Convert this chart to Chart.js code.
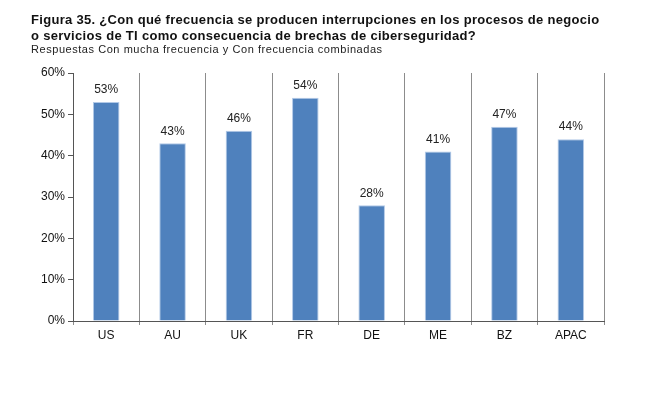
<!DOCTYPE html>
<html>
<head>
<meta charset="utf-8">
<script src="https://cdn.jsdelivr.net/npm/chart.js@4"></script>
<style>
  body { margin: 0; background: #fff; font-family: "Liberation Sans", Arial, sans-serif; }
  #wrap { position: relative; width: 650px; height: 399px; }
  #title { position: absolute; left: 31px; top: 12px; font-size: 13px; font-weight: bold; line-height: 16px; letter-spacing: 0.3px; color: #111; white-space: nowrap; }
  #subtitle { position: absolute; left: 31px; top: 43px; font-size: 11px; line-height: 13px; letter-spacing: 0.55px; color: #222; }
  canvas { position: absolute; left: 0; top: 0; }
</style>
</head>
<body>
<div id="wrap">
  <canvas id="chart" width="650" height="399"></canvas>
  <div id="title">Figura 35. ¿Con qué frecuencia se producen interrupciones en los procesos de negocio<br>o servicios de TI como consecuencia de brechas de ciberseguridad?</div>
  <div id="subtitle">Respuestas Con mucha frecuencia y Con frecuencia combinadas</div>
</div>
<script>
const CATEGORIES = ['US', 'AU', 'UK', 'FR', 'DE', 'ME', 'BZ', 'APAC'];
const VALUES = [53, 43, 46, 54, 28, 41, 47, 44];
const Y_TICKS = [0, 10, 20, 30, 40, 50, 60];

const BAR_BLUE = '#4f81bd';

// value labels above each bar
const valueLabels = {
  id: 'valueLabels',
  afterDatasetsDraw(chart) {
    const ctx = chart.ctx;
    const meta = chart.getDatasetMeta(0);
    ctx.save();
    ctx.font = '12px "Liberation Sans", Arial, sans-serif';
    ctx.fillStyle = '#222';
    ctx.textAlign = 'center';
    ctx.textBaseline = 'bottom';
    meta.data.forEach((bar, i) => {
      ctx.fillText(VALUES[i] + '%', bar.x, bar.y - 6);
    });
    ctx.restore();
  }
};

new Chart(document.getElementById('chart'), {
  type: 'bar',
  data: {
    labels: CATEGORIES,
    datasets: [{
      data: VALUES,
      backgroundColor: BAR_BLUE,
      borderColor: 'rgba(170,195,228,0.9)',
      borderWidth: 1,
      barPercentage: 0.4,
      categoryPercentage: 1,
    }],
  },
  options: {
    responsive: false,
    animation: false,
    layout: { padding: { left: 0, top: 73, right: 46, bottom: 54 } },
    plugins: {
      legend: { display: false },
      tooltip: { enabled: false },
    },
    scales: {
      x: {
        afterFit: s => { s.height = 24; },
        grid: {
          color: '#8c8c8c',
          lineWidth: 1,
          tickLength: 4,
          offset: true,
        },
        border: { color: '#555', width: 1 },
        ticks: {
          color: '#111',
          font: { size: 12, family: '"Liberation Sans", Arial, sans-serif' },
          padding: 3,
        },
      },
      y: {
        min: 0,
        max: 60,
        afterFit: s => { s.width = 73; },
        afterBuildTicks: s => { s.ticks = Y_TICKS.map(v => ({ value: v })); },
        grid: {
          drawOnChartArea: false,
          tickLength: 5,
          color: '#555',
        },
        border: { color: '#555', width: 1 },
        ticks: {
          color: '#111',
          padding: 3,
          font: { size: 12, family: '"Liberation Sans", Arial, sans-serif' },
          callback: v => v + '%',
        },
      },
    },
  },
  plugins: [valueLabels],
});
</script>
</body>
</html>
